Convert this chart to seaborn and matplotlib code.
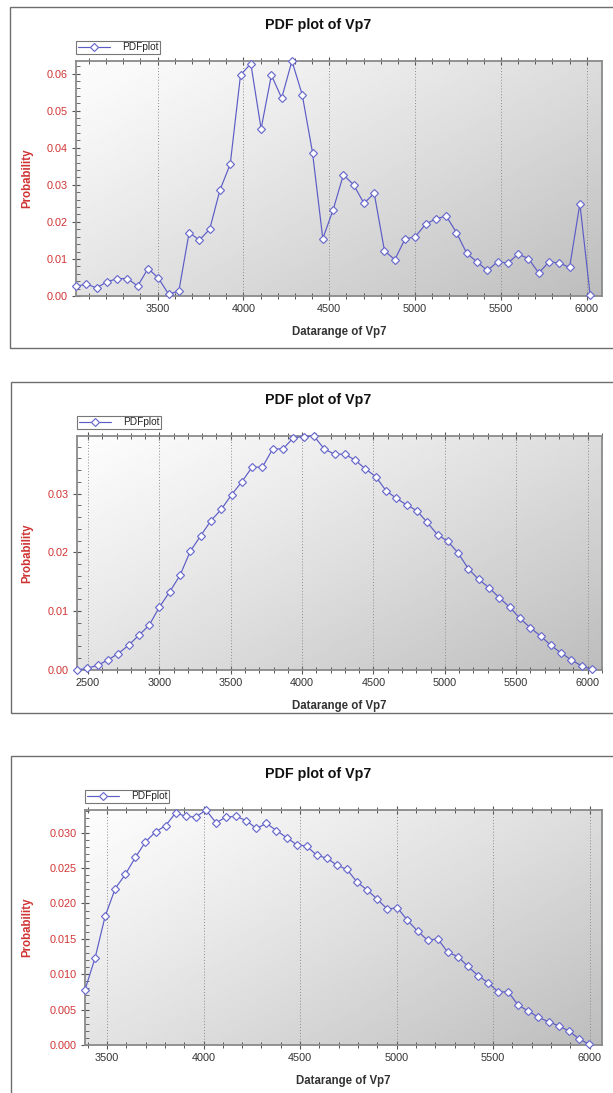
import numpy as np
import pandas as pd
import matplotlib
matplotlib.use("Agg")
import matplotlib.pyplot as plt
import seaborn as sns
from matplotlib.ticker import MultipleLocator, AutoMinorLocator, FormatStrFormatter
from matplotlib.patches import Rectangle

# ---- data: PDF estimates of Vp7 (bin centre -> probability) ----
n_bins = 51

vp_start_1, vp_step_1 = 3025.0, 59.9
prob_1 = [0.0026, 0.0032, 0.0022, 0.0038, 0.0047, 0.0047, 0.0027, 0.0074, 0.0049, 0.0005,
          0.0013, 0.0171, 0.0151, 0.0180, 0.0286, 0.0356, 0.0596, 0.0627, 0.0451, 0.0596,
          0.0534, 0.0634, 0.0543, 0.0387, 0.0155, 0.0232, 0.0327, 0.0300, 0.0250, 0.0277,
          0.0122, 0.0098, 0.0154, 0.0160, 0.0194, 0.0208, 0.0216, 0.0171, 0.0115, 0.0092,
          0.0069, 0.0092, 0.0089, 0.0113, 0.0101, 0.0062, 0.0092, 0.0089, 0.0077, 0.0249,
          0.0002]

vp_start_2, vp_step_2 = 2423.0, 72.16
prob_2 = [0.0000, 0.0003, 0.0008, 0.0017, 0.0028, 0.0042, 0.0059, 0.0076, 0.0107, 0.0133,
          0.0161, 0.0202, 0.0228, 0.0254, 0.0273, 0.0298, 0.0320, 0.0345, 0.0345, 0.0376,
          0.0376, 0.0395, 0.0397, 0.0398, 0.0376, 0.0367, 0.0367, 0.0357, 0.0342, 0.0329,
          0.0305, 0.0292, 0.0281, 0.0271, 0.0251, 0.0230, 0.0219, 0.0199, 0.0172, 0.0154,
          0.0140, 0.0123, 0.0107, 0.0088, 0.0072, 0.0058, 0.0042, 0.0029, 0.0017, 0.0007,
          0.0001]

vp_start_3, vp_step_3 = 3386.0, 52.2
prob_3 = [0.0078, 0.0123, 0.0182, 0.0221, 0.0241, 0.0265, 0.0287, 0.0301, 0.0310, 0.0328,
          0.0323, 0.0322, 0.0332, 0.0314, 0.0322, 0.0323, 0.0317, 0.0306, 0.0313, 0.0303,
          0.0293, 0.0283, 0.0281, 0.0268, 0.0264, 0.0254, 0.0248, 0.0230, 0.0219, 0.0206,
          0.0192, 0.0194, 0.0176, 0.0161, 0.0148, 0.0150, 0.0131, 0.0125, 0.0111, 0.0098,
          0.0088, 0.0075, 0.0075, 0.0056, 0.0048, 0.0039, 0.0033, 0.0027, 0.0020, 0.0009,
          0.0001]

x_ticks_1 = [3500, 4000, 4500, 5000, 5500, 6000]
x_ticks_2 = [2500, 3000, 3500, 4000, 4500, 5000, 5500, 6000]
x_ticks_3 = [3500, 4000, 4500, 5000, 5500, 6000]

title = "PDF plot of Vp7"
x_label = "Datarange of Vp7"
y_label = "Probability"
series_name = "PDFplot"

# ---- styling ----
sns.set_theme(style="white")
plt.rcParams["font.family"] = ["Liberation Sans", "DejaVu Sans"]

W, H = 613, 1093
LINE = "#5c5cc6"
MARK = "#6a6acc"
RED = "#d03434"
TXT = "#333333"
SPINE = "#8a8a8a"

fig = plt.figure(figsize=(W / 100, H / 100), dpi=100)
fig.patch.set_facecolor("white")


def frac_rect(l, t, r, b):
    return [l / W, 1 - b / H, (r - l) / W, (b - t) / H]


# diagonal light-to-grey background for the plotting area
u, v = np.meshgrid(np.linspace(0, 1, 256), np.linspace(0, 1, 256))
shade = 0.99 - 0.25 * (0.55 * u + 0.45 * v) ** 1.15

panels = [
    dict(prob=prob_1, start=vp_start_1, step=vp_step_1, xlim=(3025, 6089),
         ticks=x_ticks_1, ymajor=0.01, fmt="%.2f",
         ax=(76, 61, 602, 296), box=(10, 7, 640, 348), title_y=25),
    dict(prob=prob_2, start=vp_start_2, step=vp_step_2, xlim=(2423, 6101),
         ticks=x_ticks_2, ymajor=0.01, fmt="%.2f",
         ax=(77, 436, 602, 670), box=(11, 382, 640, 713), title_y=400),
    dict(prob=prob_3, start=vp_start_3, step=vp_step_3, xlim=(3386, 6064),
         ticks=x_ticks_3, ymajor=0.005, fmt="%.3f",
         ax=(85, 810, 602, 1045), box=(11, 756, 640, 1120), title_y=774),
]

for p in panels:
    l, t, r, b = p["box"]
    fig.add_artist(Rectangle((l / W, 1 - b / H), (r - l) / W, (b - t) / H,
                             transform=fig.transFigure, fill=False,
                             edgecolor="#6e6e6e", linewidth=1.0))
    fig.text(318 / W, 1 - p["title_y"] / H, title, ha="center", va="center",
             fontsize=10.3, fontweight="bold", color="#111111")

    al, at, ar, ab = p["ax"]
    ax = fig.add_axes(frac_rect(al, at, ar, ab))
    ax.imshow(shade, cmap="gray", vmin=0, vmax=1, extent=(0, 1, 0, 1),
              transform=ax.transAxes, aspect="auto", zorder=0,
              interpolation="bilinear")

    x = p["start"] + p["step"] * np.arange(n_bins)
    df = pd.DataFrame({"vp": x, "prob": p["prob"]})
    sns.lineplot(data=df, x="vp", y="prob", ax=ax, color=LINE, linewidth=0.85,
                 marker="D", markersize=4.0, markerfacecolor="white",
                 markeredgecolor=MARK, markeredgewidth=0.85, label=series_name,
                 zorder=4, clip_on=False)

    ax.set_xlim(*p["xlim"])
    ax.set_ylim(0, max(p["prob"]))
    ax.set_xticks(p["ticks"])
    ax.xaxis.set_minor_locator(MultipleLocator(100))
    ax.yaxis.set_major_locator(MultipleLocator(p["ymajor"]))
    ax.yaxis.set_minor_locator(AutoMinorLocator(5))
    ax.yaxis.set_major_formatter(FormatStrFormatter(p["fmt"]))

    ax.grid(False)
    for xt in p["ticks"]:
        ax.axvline(xt, color="#8c8c8c", linestyle=(0, (1, 2)), linewidth=0.7, zorder=1)

    for s in ax.spines.values():
        s.set_color(SPINE)
        s.set_linewidth(1.3)
        s.set_visible(True)

    ax.tick_params(axis="x", which="major", direction="inout", length=6, width=0.8,
                   color="#555555", top=True, bottom=True, labelsize=7.8,
                   labelcolor=TXT, pad=3)
    ax.tick_params(axis="x", which="minor", direction="inout", length=4, width=0.7,
                   color="#555555", top=True, bottom=True)
    ax.tick_params(axis="y", which="major", direction="inout", length=6, width=0.8,
                   color="#555555", left=True, right=False, labelsize=7.8,
                   labelcolor=RED, pad=3)
    ax.tick_params(axis="y", which="minor", direction="in", length=3, width=0.6,
                   color="#555555", left=True, right=False)

    ax.set_xlabel(x_label, fontsize=8.3, fontweight="bold", color=TXT)
    ax.set_ylabel(y_label, fontsize=8.3, fontweight="bold", color=RED)
    w_ax, h_ax = ar - al, ab - at
    ax.yaxis.set_label_coords((27 - al) / w_ax, 0.5)
    ax.xaxis.set_label_coords(0.5, -36 / h_ax)
    ax.xaxis.label.set_verticalalignment("center")
    ax.yaxis.label.set_verticalalignment("center")

    leg = ax.legend(loc="lower left", bbox_to_anchor=(0, 1.03), borderaxespad=0,
                    fontsize=7.3, handlelength=3.2, borderpad=0.15, handletextpad=1.2,
                    fancybox=False, frameon=True, framealpha=1)
    leg.get_frame().set_edgecolor("#777777")
    leg.get_frame().set_linewidth(0.8)

fig.savefig("out.png", dpi=100, facecolor="white")
